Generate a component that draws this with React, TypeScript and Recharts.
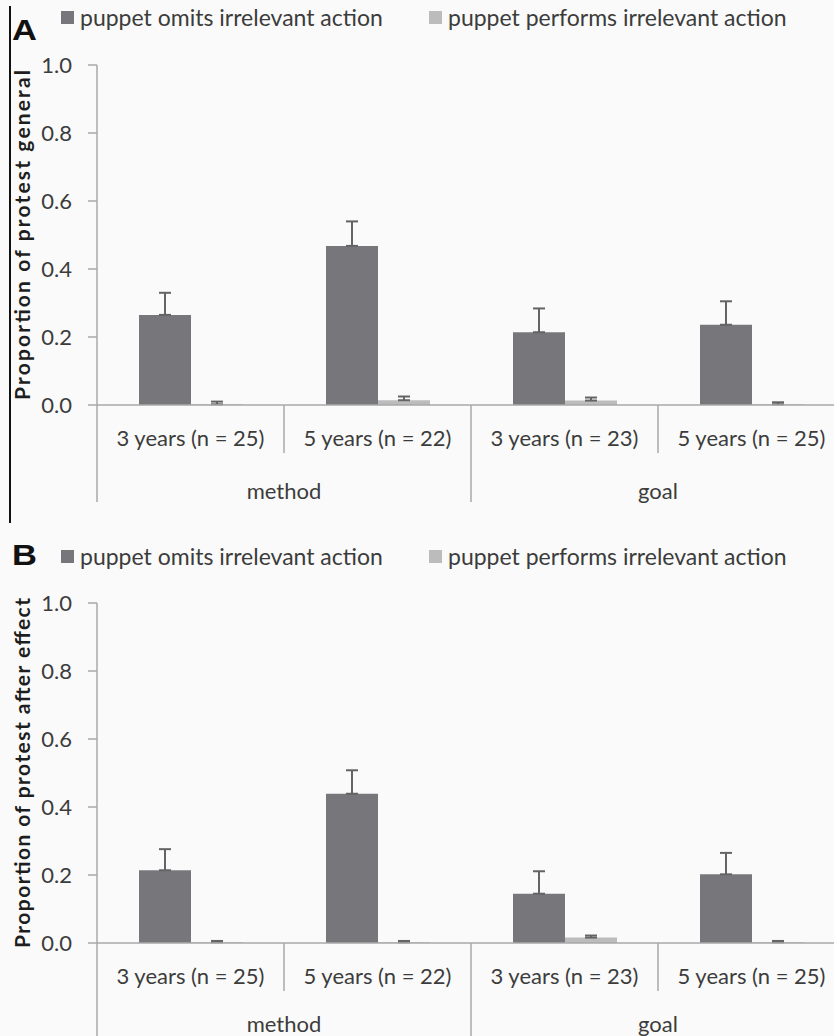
import React from 'react';
import { BarChart, Bar, XAxis, YAxis, ErrorBar } from 'recharts';

// x categories (age group) and the condition they belong to
const categories = ['3 years (n = 25)', '5 years (n = 22)', '3 years (n = 23)', '5 years (n = 25)'];
const conditions = ['method', 'goal'];

const seriesNames = ['puppet omits irrelevant action', 'puppet performs irrelevant action'];
const seriesColors = ['#77777b', '#bcbcbc'];

// Panel A: proportion of protest general
const generalOmits = [0.265, 0.468, 0.214, 0.236];
const generalOmitsErr = [0.065, 0.072, 0.07, 0.069];
const generalPerforms = [0.002, 0.014, 0.013, 0.002];
const generalPerformsErr = [0.008, 0.011, 0.009, 0.006];

// Panel B: proportion of protest after effect
const effectOmits = [0.214, 0.439, 0.145, 0.202];
const effectOmitsErr = [0.062, 0.069, 0.066, 0.063];
const effectPerforms = [0.002, 0.002, 0.016, 0.002];
const effectPerformsErr = [0.004, 0.004, 0.006, 0.004];

const yTicks = [0, 0.2, 0.4, 0.6, 0.8, 1.0];

const FONT = 'Lato, "Open Sans", sans-serif';
const TEXT = '#3c3c3c';
const AXIS = '#a8a8a8';
const ERR = '#646467';
const CHART_W = 850;
const Y_AXIS_W = 97;
const RIGHT = 5;
const PLOT_H = 340;
const BAND = (CHART_W - Y_AXIS_W - RIGHT) / categories.length;

const buildData = (omits: number[], omitsErr: number[], performs: number[], performsErr: number[]) =>
	categories.map((name, i) => ({
		name,
		omits: omits[i],
		omitsErr: [0, omitsErr[i]],
		performs: performs[i],
		performsErr: [0, performsErr[i]],
	}));

interface PanelProps {
	letter: string;
	letterTop: number;
	legendTop: number;
	yLabel: string;
	yLabelLen: number;
	top: number;
	height: number;
	plotTop: number;
	longLen: number;
	groupDy: number;
	frame?: boolean;
	data: ReturnType<typeof buildData>;
}

function Panel({ letter, letterTop, legendTop, yLabel, yLabelLen, top, height, plotTop, longLen, groupDy, frame, data }: PanelProps) {
	const axisY = plotTop + PLOT_H;

	const renderTick = (props: any) => {
		const { x, payload, index } = props;
		const left = x - BAND / 2;
		const long = index % 2 === 0;
		return (
			<g>
				<line x1={left} x2={left} y1={axisY} y2={axisY + (long ? longLen : 48)} stroke={AXIS} strokeWidth={1.5} />
				<text x={x} y={axisY + 32} textAnchor="middle" dominantBaseline="central" fontSize={22} fill={TEXT} fontFamily={FONT}>
					{payload.value}
				</text>
				{long && (
					<text x={x + BAND / 2} y={axisY + groupDy} textAnchor="middle" dominantBaseline="central" fontSize={22} fill={TEXT} fontFamily={FONT}>
						{conditions[index / 2]}
					</text>
				)}
			</g>
		);
	};

	const renderYLabel = (props: any) => {
		const vb = props.viewBox;
		return (
			<text
				transform={`translate(21, ${vb.y + vb.height / 2}) rotate(-90)`}
				textAnchor="middle"
				dominantBaseline="central"
				fontSize={21}
				fontWeight="bold"
				fill="#1e1e1e"
				fontFamily={FONT}
				textLength={yLabelLen}
				lengthAdjust="spacing"
			>
				{yLabel}
			</text>
		);
	};

	return (
		<div style={{ position: 'absolute', left: 0, top, width: 834, height, overflow: 'hidden' }}>
			{frame && <div style={{ position: 'absolute', left: 9, top: 6, width: 2, height: height - 6, background: '#111' }} />}
			<div style={{ position: 'absolute', left: 12, top: letterTop, fontFamily: '"Liberation Sans", Arial, sans-serif', fontWeight: 'bold', fontSize: 30, color: '#111', lineHeight: 1, transform: 'scaleX(1.15)', transformOrigin: 'left top' }}>
				{letter}
			</div>
			{/* Legend */}
			{seriesNames.map((name, i) => (
				<div
					key={name}
					style={{ position: 'absolute', left: i === 0 ? 61 : 429, top: legendTop, display: 'flex', alignItems: 'center', gap: 6, fontFamily: FONT, fontSize: 23, color: TEXT, lineHeight: 1, whiteSpace: 'nowrap' }}
				>
					<div style={{ width: 13, height: 13, background: seriesColors[i] }} />
					<span>{name}</span>
				</div>
			))}
			<div style={{ position: 'absolute', left: 0, top: 0 }}>
				<BarChart width={CHART_W} height={height} data={data} margin={{ top: plotTop, right: RIGHT, bottom: 0, left: 0 }} barGap={0} barSize={52}>
					<XAxis
						dataKey="name"
						height={height - axisY}
						tickLine={false}
						axisLine={{ stroke: AXIS, strokeWidth: 1.5 }}
						tick={renderTick}
						interval={0}
					/>
					<YAxis
						width={Y_AXIS_W}
						domain={[0, 1]}
						ticks={yTicks}
						interval={0}
						tickFormatter={(v: number) => v.toFixed(1)}
						tickSize={9}
						tickMargin={16}
						axisLine={{ stroke: AXIS, strokeWidth: 1.5 }}
						tickLine={{ stroke: AXIS, strokeWidth: 1.5 }}
						tick={{ fontSize: 22, fill: TEXT, fontFamily: FONT }}
						label={renderYLabel}
					/>
					<Bar dataKey="omits" fill={seriesColors[0]} isAnimationActive={false}>
						<ErrorBar dataKey="omitsErr" width={6} stroke={ERR} strokeWidth={2} direction="y" />
					</Bar>
					<Bar dataKey="performs" fill={seriesColors[1]} isAnimationActive={false}>
						<ErrorBar dataKey="performsErr" width={6} stroke={ERR} strokeWidth={2} direction="y" />
					</Bar>
				</BarChart>
			</div>
		</div>
	);
}

export default function App() {
	return (
		<div style={{ position: 'absolute', left: 0, top: 0, width: 834, height: 1036, background: '#fafafa', overflow: 'hidden' }}>
			<Panel
				letter="A"
				letterTop={15}
				legendTop={6}
				yLabel="Proportion of protest general"
				yLabelLen={330}
				top={0}
				height={523}
				plotTop={65}
				longLen={97}
				groupDy={85}
				frame
				data={buildData(generalOmits, generalOmitsErr, generalPerforms, generalPerformsErr)}
			/>
			<Panel
				letter="B"
				letterTop={17}
				legendTop={22}
				yLabel="Proportion of protest after effect"
				yLabelLen={350}
				top={523}
				height={513}
				plotTop={80}
				longLen={94}
				groupDy={80}
				data={buildData(effectOmits, effectOmitsErr, effectPerforms, effectPerformsErr)}
			/>
		</div>
	);
}
